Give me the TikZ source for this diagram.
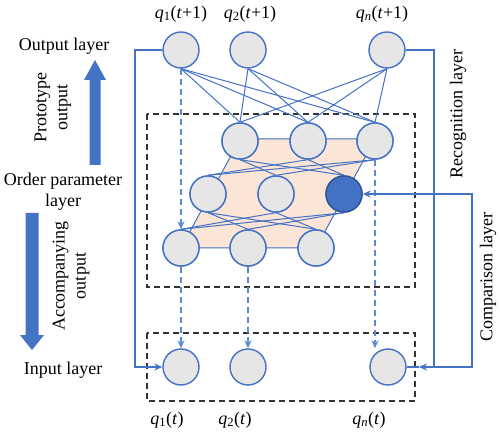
\documentclass[tikz,border=0pt]{standalone}
\usepackage{fontspec}
\setmainfont{Liberation Serif}
\usetikzlibrary{arrows.meta}
\definecolor{ob}{HTML}{4472C4}
\definecolor{dashblue}{HTML}{5B8BD0}
\definecolor{nodegray}{HTML}{E7E6E6}
\definecolor{peach}{HTML}{FBE5D6}
\definecolor{darkblue}{HTML}{2F5597}
\begin{document}
\begin{tikzpicture}[x=1pt,y=-1pt,font=\fontsize{18}{21}\selectfont,
  neuron/.style={circle,draw=ob,line width=1.4pt,fill=nodegray,minimum size=36pt,inner sep=0pt},
  hot/.style={neuron,fill=ob,draw=darkblue},
  link/.style={draw=ob,line width=1pt},
  flow/.style={draw=dashblue,line width=1.1pt,dash pattern=on 6pt off 4pt,-{Stealth[length=8pt,width=7pt]}},
  frame/.style={draw=black!80,line width=1.3pt,dash pattern=on 6pt off 4pt},
  loopline/.style={draw=ob,line width=1.2pt},
  bigarrow/.style={fill=ob,draw=none},
  lbl/.style={inner sep=0pt,align=center}]
\fill[white] (0,0) rectangle (500,435);
\useasboundingbox (0,0) rectangle (500,435);

% dashed frames
\draw[frame] (147,114) rectangle (415,287);
\draw[frame] (147,333) rectangle (415,401);

% parallelogram
\coordinate (p1) at (240,139);
\coordinate (p2) at (375,139);
\coordinate (p3) at (316,248);
\coordinate (p4) at (181,248);
\draw[fill=peach,draw=ob,line width=1pt] (p1) -- (p2) -- (p3) -- (p4) -- cycle;

% nodes
\node[neuron] (o1) at (181,50) {};
\node[neuron] (o2) at (248,50) {};
\node[neuron] (on) at (387,50) {};
\node[neuron] (t1) at (240,141) {};
\node[neuron] (t2) at (308,141) {};
\node[neuron] (t3) at (375,141) {};
\node[neuron] (m1) at (208,194) {};
\node[neuron] (m2) at (276,194) {};
\node[hot]    (m3) at (344,194) {};
\node[neuron] (b1) at (181,248) {};
\node[neuron] (b2) at (248,248) {};
\node[neuron] (b3) at (316,248) {};
\node[neuron] (i1) at (181,367) {};
\node[neuron] (i2) at (248,367) {};
\node[neuron] (in) at (388,367) {};

% output -> recognition top row
\foreach \a in {o1,o2,on}{
  \foreach \b in {t1,t2,t3}{
    \draw[link] (\a.south) -- (\b.north);
  }
}
% top row -> middle row
\draw[link] (t1.south) -- (m2.north);
\draw[link] (t1.south) -- (m3.north);
\draw[link] (t2.south) -- (m1.north);
\draw[link] (t2.south) -- (m3.north);
\draw[link] (t3.south) -- (m1.north);
\draw[link] (t3.south) -- (m2.north);
% middle row -> bottom row
\draw[link] (m1.south) -- (b2.north);
\draw[link] (m1.south) -- (b3.north);
\draw[link] (m2.south) -- (b1.north);
\draw[link] (m2.south) -- (b3.north);
\draw[link] (m3.south) -- (b1.north);
\draw[link] (m3.south) -- (b2.north);

% redraw nodes above the links
\foreach \n in {t1,t2,t3,m1,m2,b1,b2,b3}{
  \node[neuron] at (\n) {};
}
\node[hot] at (m3) {};

% dashed flows
\draw[flow] (o1.south) -- (b1.north);
\draw[flow] (b1.south) -- (i1.north);
\draw[flow] (b2.south) -- (i2.north);
\coordinate (tq) at (t3.south |- in.north);
\draw[flow] (t3.south) -- (tq);

% feedback loops
\coordinate (la) at (135,50);
\coordinate (lb) at (135,367);
\draw[loopline,-{Stealth[length=8pt,width=7pt]}] (o1.west) -- (la) -- (lb) -- (i1.west);
\coordinate (ra) at (434,50);
\coordinate (rb) at (434,367);
\coordinate (rtip) at (419,367);
\draw[loopline,-{Stealth[length=8pt,width=7pt]}] (on.east) -- (ra) -- (rb) -- (rtip);
\draw[loopline] (rtip) -- (in.east);
\coordinate (ca) at (472,367);
\coordinate (cb) at (472,194);
\draw[loopline,-{Stealth[length=8pt,width=7pt]}] (rb) -- (ca) -- (cb) -- (m3.east);

% big arrows
\fill[bigarrow] (89.5,165) -- (100.5,165) -- (100.5,80) -- (106,80) -- (95,60) -- (84,80) -- (89.5,80) -- cycle;
\fill[bigarrow] (25.5,213) -- (38.5,213) -- (38.5,335) -- (44,335) -- (32,350) -- (20,335) -- (25.5,335) -- cycle;

% texts
\node[lbl] (tout) at (64,46) {Output layer};
\node[lbl,rotate=90] (tproto) at (53,108) {Prototype\\output};
\node[lbl] (torder) at (63,192) {Order parameter\\layer};
\node[lbl,rotate=90] (tacc) at (71,276) {Accompanying\\output};
\node[lbl] (tin) at (63,370) {Input layer};
\node[lbl,rotate=90] (trec) at (458,114) {Recognition layer};
\node[lbl,rotate=90] (tcomp) at (488,277) {Comparison layer};

\node[lbl] (lo1) at (181,14) {\textit{q}\textsubscript{1}(\textit{t}+1)};
\node[lbl] (lo2) at (250,14) {\textit{q}\textsubscript{2}(\textit{t}+1)};
\node[lbl] (lon) at (382,14) {\textit{q}\textsubscript{\textit{n}}(\textit{t}+1)};
\node[lbl] (li1) at (167,420) {\textit{q}\textsubscript{1}(\textit{t})};
\node[lbl] (li2) at (235,420) {\textit{q}\textsubscript{2}(\textit{t})};
\node[lbl] (lin) at (369,420) {\textit{q}\textsubscript{\textit{n}}(\textit{t})};
\end{tikzpicture}
\end{document}
